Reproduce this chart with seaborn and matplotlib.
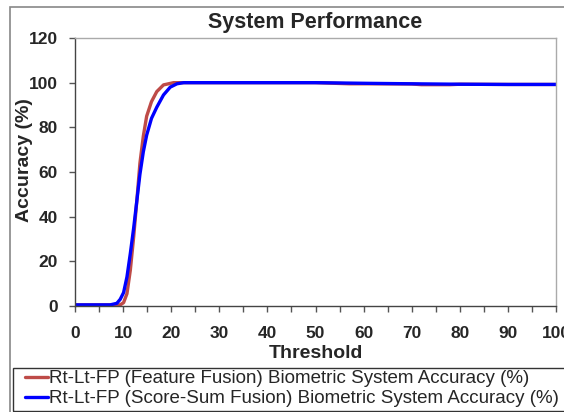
import matplotlib
matplotlib.use("Agg")
import matplotlib.pyplot as plt
from matplotlib.patches import Rectangle
import seaborn as sns
import pandas as pd

sns.set_style("white")
plt.rcParams['font.family'] = ['Liberation Sans', 'DejaVu Sans']

# Series 1: Feature Fusion
feat_x = [0, 9.4, 10.1, 10.8, 11.5, 12.2, 12.85, 13.5, 14.2, 14.9, 15.9, 17, 18.4, 20.5,
          30, 40, 50, 57, 61, 70, 72, 78, 80, 90, 100]
feat_y = [0.5, 0.5, 1.5, 5.5, 16, 31, 47, 64, 76, 85, 91.5, 96, 99, 100,
          100, 100, 100, 99.5, 99.5, 99.4, 99.1, 99.1, 99.3, 99.2, 99.2]
# Series 2: Score-Sum Fusion
score_x = [0, 7.3, 8.7, 9.4, 10.1, 10.8, 11.5, 12.2, 12.85, 13.5, 14.2, 14.9, 15.9, 17, 18.4,
           19.8, 21.2, 22.6, 30, 40, 50, 61, 70, 80, 90, 100]
score_y = [0.5, 0.5, 1.2, 3, 6, 13, 23.5, 35, 47, 59, 69, 76.5, 84, 89, 94.5,
           98, 99.5, 100, 100, 100, 100, 99.7, 99.5, 99.3, 99.2, 99.2]

labels = ["Rt-Lt-FP (Feature Fusion) Biometric System Accuracy (%)",
          "Rt-Lt-FP (Score-Sum Fusion) Biometric System Accuracy (%)"]
colors = ["#BE4B48", "#0000FF"]

x_ticks = list(range(0, 101, 10))
y_ticks = list(range(0, 121, 20))

fig = plt.figure(figsize=(5.64, 4.12), dpi=100)
ax = fig.add_axes([75/564, 1 - 306/412, (556-75)/564, (306-38)/412])

df1 = pd.DataFrame({"Threshold": feat_x, "Accuracy": feat_y})
df2 = pd.DataFrame({"Threshold": score_x, "Accuracy": score_y})
sns.lineplot(data=df1, x="Threshold", y="Accuracy", ax=ax, color=colors[0], lw=2.4, label=labels[0])
sns.lineplot(data=df2, x="Threshold", y="Accuracy", ax=ax, color=colors[1], lw=2.4, label=labels[1])

ax.set_xlim(0, 100)
ax.set_ylim(0, 120)
ax.set_xticks(x_ticks)
ax.set_xticks(range(0, 101, 5), minor=True)
ax.set_yticks(y_ticks)
ax.set_xticklabels([str(t) for t in x_ticks], fontsize=12.5, fontweight='bold')
ax.set_yticklabels([str(t) for t in y_ticks], fontsize=12.5, fontweight='bold')
ax.tick_params(axis='both', which='both', direction='out', length=4.5, width=1, color='#555555',
               bottom=True, left=True)
ax.tick_params(axis='x', which='major', pad=10)
ax.tick_params(axis='y', which='major', pad=8)
ax.set_xlabel("Threshold", fontsize=14, fontweight='bold', labelpad=3)
ax.set_ylabel("Accuracy (%)", fontsize=14, fontweight='bold')
ax.yaxis.set_label_coords((33 - 75) / 481, (306 - 160) / 268)
ax.set_title("System Performance", fontsize=15.5, fontweight='bold', pad=7)
for s in ['left', 'bottom']:
    ax.spines[s].set_color('#444444')
    ax.spines[s].set_linewidth(1)
for s in ['top', 'right']:
    ax.spines[s].set_color('#AAAAAA')
    ax.spines[s].set_linewidth(1)

ax.get_legend().remove()
handles, labs = ax.get_legend_handles_labels()
leg = fig.legend(handles, labs, loc='upper left', bbox_to_anchor=(25/564, 1 - 370/412),
                 fontsize=13.5, frameon=False, handlelength=1.2,
                 handletextpad=0.1, borderpad=0, labelspacing=0.17, borderaxespad=0)

fig.patches.append(Rectangle((13/564, 1 - 411/412), 1.0, (411 - 368)/412, transform=fig.transFigure,
                             fill=False, edgecolor='#333333', lw=1.0, zorder=5))
fig.patches.append(Rectangle((10/564, -0.05), 1.0, 1 - 7/412 + 0.05, transform=fig.transFigure,
                             fill=False, edgecolor='#888888', lw=1.2, zorder=-1))

fig.savefig("out.png", dpi=100)
